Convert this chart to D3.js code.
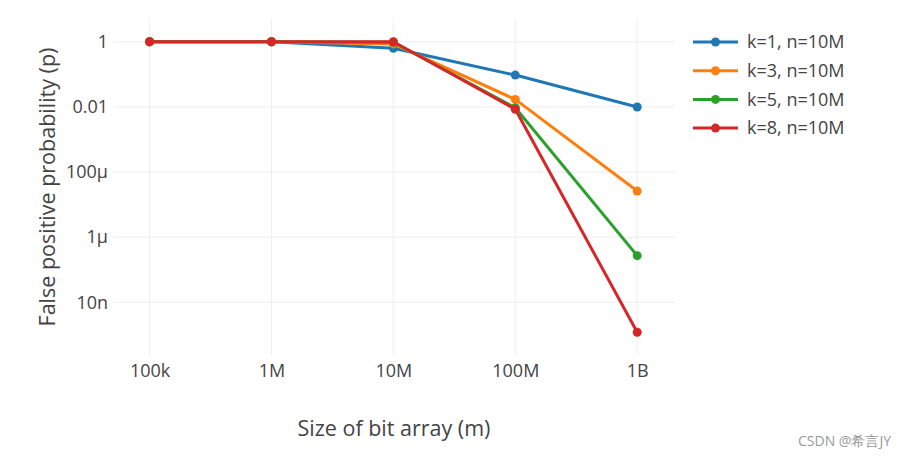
<!DOCTYPE html>
<html>
<head>
<meta charset="utf-8">
<script src="https://cdn.jsdelivr.net/npm/d3@7"></script>
<style>
  body { margin: 0; background: #fff; }
  text { font-family: "Open Sans", sans-serif; fill: #444; }
</style>
</head>
<body>
<div id="chart-area"></div>
<script>
// DATA
const sizes = [1e5, 1e6, 1e7, 1e8, 1e9]
const xTickLabels = ["100k", "1M", "10M", "100M", "1B"]
const yTickValues = [1, 0.01, 1e-4, 1e-6, 1e-8]
const yTickLabels = ["1", "0.01", "100μ", "1μ", "10n"]
const seriesNames = ["k=1, n=10M", "k=3, n=10M", "k=5, n=10M", "k=8, n=10M"]
const k1 = [1, 1, 0.63, 0.095, 0.0099]
const k3 = [1, 1, 0.86, 0.017, 0.000026]
const k5 = [1, 1, 0.97, 0.0094, 2.7e-7]
const k8 = [1, 1, 1.0, 0.0085, 1.2e-9]
const colors = ["#1f77b4", "#ff7f0e", "#2ca02c", "#d62728"]

const series = [k1, k3, k5, k8].map((vals, i) => ({
  name: seriesNames[i],
  color: colors[i],
  points: vals.map((v, j) => ({ x: sizes[j], y: v }))
}))

// CHART AREA
const W = 906, H = 457
const plot = { left: 113, right: 675, top: 19, bottom: 355 }

const svg = d3.select("#chart-area").append("svg")
  .attr("width", W)
  .attr("height", H)

const xScale = d3.scaleLog()
  .domain([Math.pow(10, 4.7), Math.pow(10, 9.31)])
  .range([plot.left, plot.right])

const yScale = d3.scaleLog()
  .domain([Math.pow(10, -9.62), Math.pow(10, 0.7)])
  .range([plot.bottom, plot.top])

// GRID
svg.append("g")
  .selectAll("line")
  .data(sizes)
  .enter().append("line")
    .attr("x1", d => xScale(d)).attr("x2", d => xScale(d))
    .attr("y1", plot.top).attr("y2", plot.bottom)
    .attr("stroke", "#eee").attr("stroke-width", 1)

svg.append("g")
  .selectAll("line")
  .data(yTickValues)
  .enter().append("line")
    .attr("y1", d => yScale(d)).attr("y2", d => yScale(d))
    .attr("x1", plot.left).attr("x2", plot.right)
    .attr("stroke", "#eee").attr("stroke-width", 1)

// AXES (labels only, plotly style)
const xAxis = d3.axisBottom(xScale)
  .tickValues(sizes)
  .tickFormat((d, i) => xTickLabels[i])
  .tickSize(0)
  .tickPadding(9)
const gx = svg.append("g")
  .attr("transform", "translate(0," + plot.bottom + ")")
  .call(xAxis)
gx.select(".domain").remove()
gx.selectAll("text").attr("font-size", 18).attr("fill", "#444")
  .attr("font-family", "Open Sans, sans-serif")

const yAxis = d3.axisLeft(yScale)
  .tickValues(yTickValues)
  .tickFormat((d, i) => yTickLabels[i])
  .tickSize(0)
  .tickPadding(5)
const gy = svg.append("g")
  .attr("transform", "translate(" + plot.left + ",0)")
  .call(yAxis)
gy.select(".domain").remove()
gy.selectAll("text").attr("font-size", 18).attr("fill", "#444")
  .attr("font-family", "Open Sans, sans-serif")

// AXIS TITLES
svg.append("text")
  .attr("x", (plot.left + plot.right) / 2)
  .attr("y", 436)
  .attr("text-anchor", "middle")
  .attr("font-size", 21.5)
  .text("Size of bit array (m)")

svg.append("text")
  .attr("transform", "translate(55," + ((plot.top + plot.bottom) / 2) + ") rotate(-90)")
  .attr("text-anchor", "middle")
  .attr("font-size", 21.5)
  .text("False positive probability (p)")

// LINES
const line = d3.line()
  .x(d => xScale(d.x))
  .y(d => yScale(d.y))

const groups = svg.append("g").selectAll("g")
  .data(series)
  .enter().append("g")

groups.append("path")
  .attr("d", d => line(d.points))
  .attr("fill", "none")
  .attr("stroke", d => d.color)
  .attr("stroke-width", 3)
  .attr("stroke-linejoin", "round")

groups.selectAll("circle")
  .data(d => d.points.map(p => ({ ...p, color: d.color })))
  .enter().append("circle")
    .attr("cx", d => xScale(d.x))
    .attr("cy", d => yScale(d.y))
    .attr("r", 4.5)
    .attr("fill", d => d.color)

// LEGEND
const legend = svg.append("g")
  .selectAll("g")
  .data(series)
  .enter().append("g")
    .attr("transform", (d, i) => "translate(693," + (42 + i * 28.7) + ")")

legend.append("line")
  .attr("x1", 0).attr("x2", 45)
  .attr("stroke", d => d.color)
  .attr("stroke-width", 3)
legend.append("circle")
  .attr("cx", 22.5)
  .attr("r", 4.5)
  .attr("fill", d => d.color)
legend.append("text")
  .attr("x", 54)
  .attr("dy", "0.35em")
  .attr("font-size", 18)
  .text(d => d.name)

// watermark
svg.append("text")
  .attr("x", 891)
  .attr("y", 446)
  .attr("text-anchor", "end")
  .attr("font-size", 14)
  .style("fill", "#999")
  .text("CSDN @希言JY")
</script>
</body>
</html>
